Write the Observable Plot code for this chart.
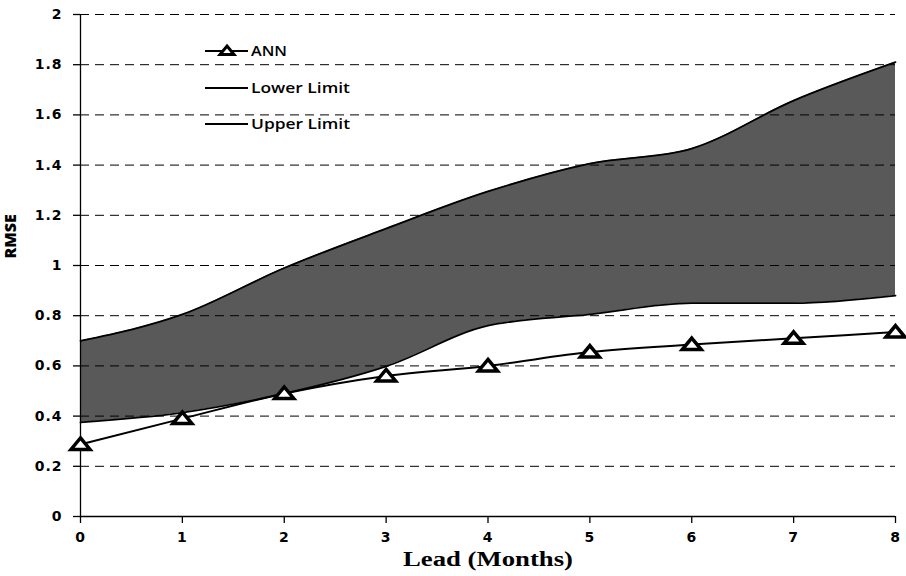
<!DOCTYPE html>
<html><head><meta charset="utf-8">
<script src="https://cdn.jsdelivr.net/npm/d3@7"></script>
<script src="https://cdn.jsdelivr.net/npm/@observablehq/plot@0.6"></script>
<style>
body{margin:0;background:#fff}
#wrap{position:relative;width:906px;height:576px}
#legend{position:absolute;left:0;top:0;pointer-events:none}
</style>
</head><body><div id="wrap"></div>
<script>
const leads = [0, 1, 2, 3, 4, 5, 6, 7, 8];
const ann   = [0.287, 0.39, 0.49, 0.56, 0.60, 0.655, 0.685, 0.71, 0.735];
const lower = [0.375, 0.414, 0.49, 0.598, 0.76, 0.805, 0.85, 0.85, 0.88];
const upper = [0.70, 0.805, 0.99, 1.147, 1.295, 1.406, 1.466, 1.657, 1.81];
const yTicks = [0, 0.2, 0.4, 0.6, 0.8, 1, 1.2, 1.4, 1.6, 1.8, 2];
const seriesNames = ["ANN", "Lower Limit", "Upper Limit"];

const data = leads.map((x, i) => ({lead: x, ann: ann[i], lower: lower[i], upper: upper[i]}));
const curve = "monotone-x";

// wide, squat open triangle like the reference marker
const wideTriangle = {
  draw(ctx) {
    ctx.moveTo(0, -6.5);
    ctx.lineTo(9.5, 5);
    ctx.lineTo(-9.5, 5);
    ctx.closePath();
  }
};

const chart = Plot.plot({
  width: 906, height: 576,
  marginLeft: 80, marginRight: 11, marginTop: 14, marginBottom: 60,
  style: {fontFamily: "DejaVu Sans", fontSize: "14px", fontWeight: "bold", color: "#000", background: "#fff"},
  x: {domain: [0, 8], label: null},
  y: {domain: [0, 2], label: null},
  marks: [
    Plot.areaY(data, {x: "lead", y1: "lower", y2: "upper", fill: "#595959", curve}),
    Plot.line(data, {x: "lead", y: "upper", stroke: "#000", strokeWidth: 1.8, curve}),
    Plot.line(data, {x: "lead", y: "lower", stroke: "#000", strokeWidth: 1.8, curve}),
    Plot.ruleY(yTicks.filter(d => d > 0), {stroke: "#000", strokeWidth: 1, strokeDasharray: "9,6"}),
    Plot.ruleY([0], {stroke: "#000", strokeWidth: 1.3}),
    Plot.ruleX([0], {y1: 0, y2: 2, stroke: "#000", strokeWidth: 1.3}),
    Plot.line(data, {x: "lead", y: "ann", stroke: "#000", strokeWidth: 2, curve}),
    Plot.dot(data, {x: "lead", y: "ann", symbol: wideTriangle, fill: "#fff", stroke: "#000", strokeWidth: 3.5, strokeLinejoin: "miter"}),
    Plot.axisX({ticks: leads, tickFormat: d => String(d), tickSize: 7, tickPadding: 9, stroke: "#000", strokeWidth: 1.3, label: null}),
    Plot.axisY({ticks: yTicks, tickFormat: d => String(d), tickSize: 7, tickPadding: 11, stroke: "#000", strokeWidth: 1.3, label: null}),
    Plot.text(["Lead (Months)"], {frameAnchor: "bottom", dy: 49, fontFamily: "Liberation Serif", fontSize: 20, fontWeight: "bold"}),
    Plot.text(["RMSE"], {frameAnchor: "left", dx: -70, dy: -7, rotate: -90, fontFamily: "Open Sans", fontSize: 16, fontWeight: 800})
  ]
});

const wrap = document.getElementById("wrap");
wrap.appendChild(chart);

// stretch the x-axis title horizontally like the reference
chart.querySelectorAll("text").forEach(t => {
  if (t.textContent === "Lead (Months)") {
    t.setAttribute("textLength", 170);
    t.setAttribute("lengthAdjust", "spacingAndGlyphs");
  }
});
chart.querySelectorAll('g[aria-label="x-axis tick label"] text, g[aria-label="y-axis tick label"] text').forEach(t => {
  t.style.letterSpacing = "1px";
});

// legend overlay (inside plot area, top-left)
const legendRows = [51, 88, 124];
const legendWidths = [36, 99, 99];
let svg = `<svg id="legend" width="906" height="576" xmlns="http://www.w3.org/2000/svg">`;
seriesNames.forEach((name, i) => {
  const y = legendRows[i];
  svg += `<line x1="205" x2="248" y1="${y}" y2="${y}" stroke="#000" stroke-width="2.2"/>`;
  if (i === 0) svg += `<path d="M227,${y - 5} L234,${y + 3.5} L220,${y + 3.5} Z" fill="#fff" stroke="#000" stroke-width="3" stroke-linejoin="miter"/>`;
  svg += `<text x="251" y="${y}" dy="0.35em" font-family="Open Sans" font-size="14" font-weight="600" textLength="${legendWidths[i]}" lengthAdjust="spacingAndGlyphs">${name}</text>`;
});
svg += `</svg>`;
wrap.insertAdjacentHTML("beforeend", svg);
</script>
</body></html>
